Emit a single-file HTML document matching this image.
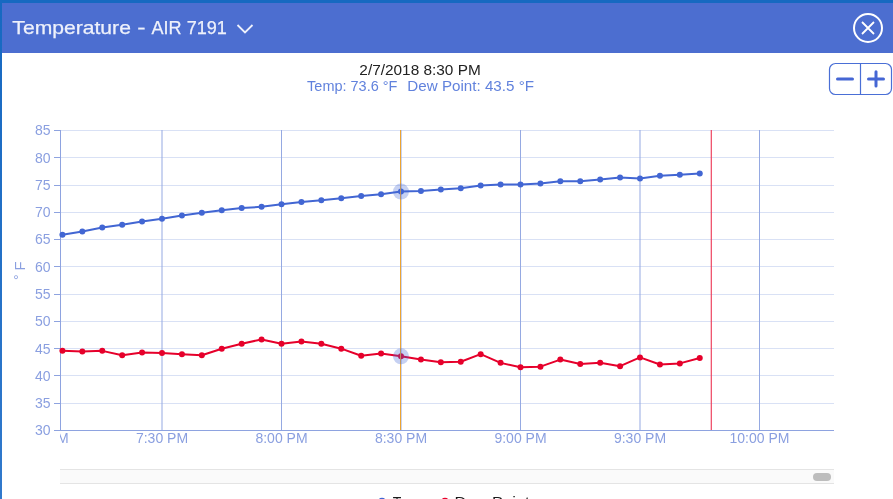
<!DOCTYPE html>
<html><head><meta charset="utf-8"><title>Temperature - AIR 7191</title>
<style>
html,body{margin:0;padding:0;background:#fff;}
body{width:893px;height:499px;overflow:hidden;position:relative;font-family:"Liberation Sans",Arial,sans-serif;}
svg{position:absolute;left:0;top:0;display:block;will-change:transform;}
.yl{font-size:14px;fill:#8a9fe0;}
.xl{font-size:14px;fill:#8a9fe0;}
</style></head>
<body>
<svg width="893" height="499" viewBox="0 0 893 499" font-family="Liberation Sans, Arial, sans-serif">
<defs><linearGradient id="lb" x1="0" y1="0" x2="0" y2="1"><stop offset="0" stop-color="#1669c1"/><stop offset="0.15" stop-color="#1a6bc3"/><stop offset="1" stop-color="#3179cc"/></linearGradient><clipPath id="cx"><rect x="60" y="425" width="800" height="30"/></clipPath></defs>
<rect x="0" y="0" width="893" height="499" fill="#fff"/>
<!-- header -->
<rect x="0" y="0" width="893" height="3" fill="#1669c1"/>
<rect x="0" y="0" width="2" height="499" fill="url(#lb)"/>
<rect x="2" y="3" width="891" height="50" fill="#4c6ed0"/>
<text x="12.34" y="33.9" font-size="18.5" fill="#eef1fb" textLength="118.58" lengthAdjust="spacingAndGlyphs" stroke="#eef1fb" stroke-width="0.25">Temperature</text>
<text x="137.23" y="34.4" font-size="18.5" fill="#eef1fb" textLength="8.26" lengthAdjust="spacingAndGlyphs" stroke="#eef1fb" stroke-width="0.25">-</text>
<text x="151.50" y="33.9" font-size="18.5" fill="#eef1fb" textLength="75.36" lengthAdjust="spacingAndGlyphs" stroke="#eef1fb" stroke-width="0.25">AIR 7191</text>
<polyline points="237.5,25 245,32.5 252.5,25" fill="none" stroke="#eef1fb" stroke-width="1.8"/>
<circle cx="868" cy="28" r="14" fill="none" stroke="#fff" stroke-width="2"/>
<path d="M862 22 L874 34 M874 22 L862 34" stroke="#fff" stroke-width="1.8"/>
<!-- tooltip header -->
<text x="359.36" y="74.8" font-size="15.5" fill="#222" textLength="121.40" lengthAdjust="spacingAndGlyphs" >2/7/2018 8:30 PM</text>
<text x="307.11" y="90.8" font-size="15" fill="#6182dd" textLength="90.25" lengthAdjust="spacingAndGlyphs" >Temp: 73.6 °F</text>
<text x="407.39" y="90.8" font-size="15" fill="#6182dd" textLength="126.59" lengthAdjust="spacingAndGlyphs" >Dew Point: 43.5 °F</text>
<!-- zoom buttons -->
<rect x="829.5" y="63.5" width="62" height="31" rx="6" ry="6" fill="#fff" stroke="#4a6fd6" stroke-width="1.2"/>
<line x1="860.5" y1="63.5" x2="860.5" y2="94.5" stroke="#4a6fd6" stroke-width="1.2"/>
<line x1="837.5" y1="79" x2="852.5" y2="79" stroke="#4566d4" stroke-width="3" stroke-linecap="round"/>
<line x1="868.5" y1="79" x2="883.5" y2="79" stroke="#4566d4" stroke-width="3" stroke-linecap="round"/>
<line x1="876" y1="71.8" x2="876" y2="86" stroke="#4566d4" stroke-width="3" stroke-linecap="round"/>
<!-- y axis title -->
<g transform="translate(24.9,0) rotate(-90)"><text x="-270.58" y="0" font-size="15.5" fill="#8a9fe0" textLength="8.97" lengthAdjust="spacingAndGlyphs" >F</text><text x="-280.02" y="-0.6" font-size="15.5" fill="#8a9fe0" textLength="5.63" lengthAdjust="spacingAndGlyphs" >°</text></g>
<line x1="61" y1="130.5" x2="834" y2="130.5" stroke="#d9e1f5" stroke-width="1"/>
<line x1="54" y1="130.5" x2="60" y2="130.5" stroke="#8ea3e0" stroke-width="1"/>
<text x="50.5" y="135.3" text-anchor="end" class="yl">85</text>
<line x1="61" y1="157.5" x2="834" y2="157.5" stroke="#d9e1f5" stroke-width="1"/>
<line x1="54" y1="157.5" x2="60" y2="157.5" stroke="#8ea3e0" stroke-width="1"/>
<text x="50.5" y="162.6" text-anchor="end" class="yl">80</text>
<line x1="61" y1="185.5" x2="834" y2="185.5" stroke="#d9e1f5" stroke-width="1"/>
<line x1="54" y1="185.5" x2="60" y2="185.5" stroke="#8ea3e0" stroke-width="1"/>
<text x="50.5" y="189.8" text-anchor="end" class="yl">75</text>
<line x1="61" y1="212.5" x2="834" y2="212.5" stroke="#d9e1f5" stroke-width="1"/>
<line x1="54" y1="212.5" x2="60" y2="212.5" stroke="#8ea3e0" stroke-width="1"/>
<text x="50.5" y="217.1" text-anchor="end" class="yl">70</text>
<line x1="61" y1="239.5" x2="834" y2="239.5" stroke="#d9e1f5" stroke-width="1"/>
<line x1="54" y1="239.5" x2="60" y2="239.5" stroke="#8ea3e0" stroke-width="1"/>
<text x="50.5" y="244.4" text-anchor="end" class="yl">65</text>
<line x1="61" y1="266.5" x2="834" y2="266.5" stroke="#d9e1f5" stroke-width="1"/>
<line x1="54" y1="266.5" x2="60" y2="266.5" stroke="#8ea3e0" stroke-width="1"/>
<text x="50.5" y="271.7" text-anchor="end" class="yl">60</text>
<line x1="61" y1="294.5" x2="834" y2="294.5" stroke="#d9e1f5" stroke-width="1"/>
<line x1="54" y1="294.5" x2="60" y2="294.5" stroke="#8ea3e0" stroke-width="1"/>
<text x="50.5" y="298.9" text-anchor="end" class="yl">55</text>
<line x1="61" y1="321.5" x2="834" y2="321.5" stroke="#d9e1f5" stroke-width="1"/>
<line x1="54" y1="321.5" x2="60" y2="321.5" stroke="#8ea3e0" stroke-width="1"/>
<text x="50.5" y="326.2" text-anchor="end" class="yl">50</text>
<line x1="61" y1="348.5" x2="834" y2="348.5" stroke="#d9e1f5" stroke-width="1"/>
<line x1="54" y1="348.5" x2="60" y2="348.5" stroke="#8ea3e0" stroke-width="1"/>
<text x="50.5" y="353.5" text-anchor="end" class="yl">45</text>
<line x1="61" y1="375.5" x2="834" y2="375.5" stroke="#d9e1f5" stroke-width="1"/>
<line x1="54" y1="375.5" x2="60" y2="375.5" stroke="#8ea3e0" stroke-width="1"/>
<text x="50.5" y="380.8" text-anchor="end" class="yl">40</text>
<line x1="61" y1="403.5" x2="834" y2="403.5" stroke="#d9e1f5" stroke-width="1"/>
<line x1="54" y1="403.5" x2="60" y2="403.5" stroke="#8ea3e0" stroke-width="1"/>
<text x="50.5" y="408.0" text-anchor="end" class="yl">35</text>
<line x1="54" y1="430.5" x2="60" y2="430.5" stroke="#8ea3e0" stroke-width="1"/>
<text x="50.5" y="435.3" text-anchor="end" class="yl">30</text>
<line x1="162.0" y1="130" x2="162.0" y2="430" stroke="#95a9e2" stroke-width="1"/>
<line x1="281.5" y1="130" x2="281.5" y2="430" stroke="#95a9e2" stroke-width="1"/>
<line x1="401.0" y1="130" x2="401.0" y2="430" stroke="#95a9e2" stroke-width="1"/>
<line x1="520.5" y1="130" x2="520.5" y2="430" stroke="#95a9e2" stroke-width="1"/>
<line x1="640.0" y1="130" x2="640.0" y2="430" stroke="#95a9e2" stroke-width="1"/>
<line x1="759.5" y1="130" x2="759.5" y2="430" stroke="#95a9e2" stroke-width="1"/>
<line x1="60.5" y1="130" x2="60.5" y2="431" stroke="#8ea3e0" stroke-width="1"/>
<line x1="60" y1="430.5" x2="834" y2="430.5" stroke="#8ea3e0" stroke-width="1"/>
<g clip-path="url(#cx)">
<text x="42.6" y="442.8" text-anchor="middle" class="xl">7:00 PM</text>
<text x="162.0" y="442.8" text-anchor="middle" class="xl">7:30 PM</text>
<text x="281.5" y="442.8" text-anchor="middle" class="xl">8:00 PM</text>
<text x="401.0" y="442.8" text-anchor="middle" class="xl">8:30 PM</text>
<text x="520.5" y="442.8" text-anchor="middle" class="xl">9:00 PM</text>
<text x="640.0" y="442.8" text-anchor="middle" class="xl">9:30 PM</text>
<text x="759.5" y="442.8" text-anchor="middle" class="xl">10:00 PM</text>
</g>
<line x1="711.3" y1="130" x2="711.3" y2="430" stroke="#ee4460" stroke-width="1.2"/>
<polyline points="62.42,234.68 82.33,231.41 102.25,227.59 122.17,224.86 142.08,221.59 162.00,218.86 181.92,215.59 201.83,212.86 221.75,210.14 241.67,207.95 261.58,206.86 281.50,204.14 301.42,201.95 321.33,200.32 341.25,198.14 361.17,195.95 381.08,194.32 401.00,191.59 420.92,191.05 440.83,189.41 460.75,188.32 480.67,185.59 500.58,184.50 520.50,184.50 540.42,183.41 560.33,181.23 580.25,181.23 600.17,179.59 620.08,177.41 640.00,178.50 659.92,175.77 679.83,174.68 699.75,173.59" fill="none" stroke="#4266d3" stroke-width="2" stroke-linejoin="round" stroke-linecap="round"/>
<circle cx="62.42" cy="234.68" r="3" fill="#4266d3"/>
<circle cx="82.33" cy="231.41" r="3" fill="#4266d3"/>
<circle cx="102.25" cy="227.59" r="3" fill="#4266d3"/>
<circle cx="122.17" cy="224.86" r="3" fill="#4266d3"/>
<circle cx="142.08" cy="221.59" r="3" fill="#4266d3"/>
<circle cx="162.00" cy="218.86" r="3" fill="#4266d3"/>
<circle cx="181.92" cy="215.59" r="3" fill="#4266d3"/>
<circle cx="201.83" cy="212.86" r="3" fill="#4266d3"/>
<circle cx="221.75" cy="210.14" r="3" fill="#4266d3"/>
<circle cx="241.67" cy="207.95" r="3" fill="#4266d3"/>
<circle cx="261.58" cy="206.86" r="3" fill="#4266d3"/>
<circle cx="281.50" cy="204.14" r="3" fill="#4266d3"/>
<circle cx="301.42" cy="201.95" r="3" fill="#4266d3"/>
<circle cx="321.33" cy="200.32" r="3" fill="#4266d3"/>
<circle cx="341.25" cy="198.14" r="3" fill="#4266d3"/>
<circle cx="361.17" cy="195.95" r="3" fill="#4266d3"/>
<circle cx="381.08" cy="194.32" r="3" fill="#4266d3"/>
<circle cx="401.00" cy="191.59" r="3" fill="#4266d3"/>
<circle cx="420.92" cy="191.05" r="3" fill="#4266d3"/>
<circle cx="440.83" cy="189.41" r="3" fill="#4266d3"/>
<circle cx="460.75" cy="188.32" r="3" fill="#4266d3"/>
<circle cx="480.67" cy="185.59" r="3" fill="#4266d3"/>
<circle cx="500.58" cy="184.50" r="3" fill="#4266d3"/>
<circle cx="520.50" cy="184.50" r="3" fill="#4266d3"/>
<circle cx="540.42" cy="183.41" r="3" fill="#4266d3"/>
<circle cx="560.33" cy="181.23" r="3" fill="#4266d3"/>
<circle cx="580.25" cy="181.23" r="3" fill="#4266d3"/>
<circle cx="600.17" cy="179.59" r="3" fill="#4266d3"/>
<circle cx="620.08" cy="177.41" r="3" fill="#4266d3"/>
<circle cx="640.00" cy="178.50" r="3" fill="#4266d3"/>
<circle cx="659.92" cy="175.77" r="3" fill="#4266d3"/>
<circle cx="679.83" cy="174.68" r="3" fill="#4266d3"/>
<circle cx="699.75" cy="173.59" r="3" fill="#4266d3"/>
<polyline points="62.42,350.86 82.33,351.41 102.25,350.86 122.17,355.23 142.08,352.50 162.00,353.05 181.92,354.14 201.83,355.23 221.75,348.68 241.67,343.77 261.58,339.41 281.50,343.77 301.42,341.59 321.33,343.77 341.25,348.68 361.17,355.77 381.08,353.59 401.00,356.32 420.92,359.59 440.83,362.32 460.75,361.77 480.67,354.14 500.58,362.86 520.50,367.23 540.42,366.68 560.33,359.59 580.25,363.95 600.17,362.86 620.08,366.14 640.00,357.41 659.92,364.50 679.83,363.41 699.75,357.95" fill="none" stroke="#e6002b" stroke-width="2" stroke-linejoin="round" stroke-linecap="round"/>
<circle cx="62.42" cy="350.86" r="3" fill="#e6002b"/>
<circle cx="82.33" cy="351.41" r="3" fill="#e6002b"/>
<circle cx="102.25" cy="350.86" r="3" fill="#e6002b"/>
<circle cx="122.17" cy="355.23" r="3" fill="#e6002b"/>
<circle cx="142.08" cy="352.50" r="3" fill="#e6002b"/>
<circle cx="162.00" cy="353.05" r="3" fill="#e6002b"/>
<circle cx="181.92" cy="354.14" r="3" fill="#e6002b"/>
<circle cx="201.83" cy="355.23" r="3" fill="#e6002b"/>
<circle cx="221.75" cy="348.68" r="3" fill="#e6002b"/>
<circle cx="241.67" cy="343.77" r="3" fill="#e6002b"/>
<circle cx="261.58" cy="339.41" r="3" fill="#e6002b"/>
<circle cx="281.50" cy="343.77" r="3" fill="#e6002b"/>
<circle cx="301.42" cy="341.59" r="3" fill="#e6002b"/>
<circle cx="321.33" cy="343.77" r="3" fill="#e6002b"/>
<circle cx="341.25" cy="348.68" r="3" fill="#e6002b"/>
<circle cx="361.17" cy="355.77" r="3" fill="#e6002b"/>
<circle cx="381.08" cy="353.59" r="3" fill="#e6002b"/>
<circle cx="401.00" cy="356.32" r="3" fill="#e6002b"/>
<circle cx="420.92" cy="359.59" r="3" fill="#e6002b"/>
<circle cx="440.83" cy="362.32" r="3" fill="#e6002b"/>
<circle cx="460.75" cy="361.77" r="3" fill="#e6002b"/>
<circle cx="480.67" cy="354.14" r="3" fill="#e6002b"/>
<circle cx="500.58" cy="362.86" r="3" fill="#e6002b"/>
<circle cx="520.50" cy="367.23" r="3" fill="#e6002b"/>
<circle cx="540.42" cy="366.68" r="3" fill="#e6002b"/>
<circle cx="560.33" cy="359.59" r="3" fill="#e6002b"/>
<circle cx="580.25" cy="363.95" r="3" fill="#e6002b"/>
<circle cx="600.17" cy="362.86" r="3" fill="#e6002b"/>
<circle cx="620.08" cy="366.14" r="3" fill="#e6002b"/>
<circle cx="640.00" cy="357.41" r="3" fill="#e6002b"/>
<circle cx="659.92" cy="364.50" r="3" fill="#e6002b"/>
<circle cx="679.83" cy="363.41" r="3" fill="#e6002b"/>
<circle cx="699.75" cy="357.95" r="3" fill="#e6002b"/>
<line x1="400.5" y1="130" x2="400.5" y2="430" stroke="#eba433" stroke-width="1"/>
<circle cx="401.00" cy="191.59" r="8" fill="#4266d3" fill-opacity="0.3"/>
<circle cx="401.00" cy="356.32" r="8" fill="#4266d3" fill-opacity="0.3"/>
<!-- scrollbar -->
<rect x="60" y="470" width="774" height="13" fill="#fafafa"/>
<line x1="60" y1="469.5" x2="834" y2="469.5" stroke="#e4e4e4"/>
<line x1="60" y1="483.5" x2="834" y2="483.5" stroke="#e4e4e4"/>
<rect x="813" y="473" width="18" height="8" rx="4" ry="4" fill="#bdbdbd"/>
<!-- legend -->
<circle cx="382" cy="501.6" r="3.8" fill="#4266d3"/>
<text x="392.71" y="506.8" font-size="14" fill="#1a1a1a" textLength="32.85" lengthAdjust="spacing" >Temp</text>
<circle cx="445" cy="501.6" r="3.8" fill="#e6002b"/>
<text x="454.40" y="506.8" font-size="14" fill="#1a1a1a" textLength="75.22" lengthAdjust="spacingAndGlyphs" >Dew Point</text>
</svg>
</body></html>
